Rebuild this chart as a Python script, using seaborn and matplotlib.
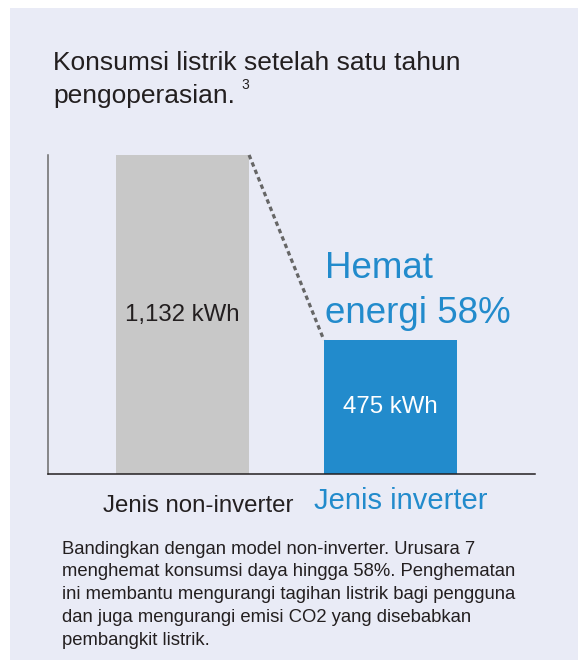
import pandas as pd
import matplotlib.pyplot as plt
import seaborn as sns
from matplotlib.patches import Rectangle

# --- data ---
categories = ['Jenis non-inverter', 'Jenis inverter']
consumption_kwh = [1132, 475]
value_labels = ['1,132 kWh', '475 kWh']
saving_pct = 58

TITLE_LINES = ['Konsumsi listrik setelah satu tahun', 'pengoperasian.']
FOOTNOTE = ('Bandingkan dengan model non-inverter. Urusara 7\n'
            'menghemat konsumsi daya hingga 58%. Penghematan\n'
            'ini membantu mengurangi tagihan listrik bagi pengguna\n'
            'dan juga mengurangi emisi CO2 yang disebabkan\n'
            'pembangkit listrik.')

# --- colours ---
PANEL = '#e9ebf6'
GRAY = '#c8c8c8'
BLUE = '#228bcc'
DARK = '#231f20'

W, H = 578, 660


def fx(px):
    return px / W


def fy(py):
    return 1 - py / H


sns.set_style('white')
plt.rcParams['font.family'] = ['Liberation Sans', 'DejaVu Sans']

fig = plt.figure(figsize=(W / 100, H / 100), dpi=100, facecolor='white')
fig.patches.append(Rectangle((fx(10), 0), 1, fy(8), transform=fig.transFigure,
                             facecolor=PANEL, edgecolor='none', zorder=-5))

ax = fig.add_axes([fx(48), fy(474), fx(535) - fx(48), fy(155) - fy(474)])
ax.set_facecolor('none')
ax.set_zorder(2)

df = pd.DataFrame({'Jenis': categories, 'kWh': consumption_kwh})
bar_w = 0.64
sns.barplot(data=df, x='Jenis', y='kWh', hue='Jenis', palette=[GRAY, BLUE],
            width=bar_w, saturation=1, errorbar=None, legend=False, ax=ax,
            edgecolor='none', linewidth=0)

ax.set_xlim(-0.647, 1.695)
ax.set_ylim(0, consumption_kwh[0])
ax.set_xticks([])
ax.set_yticks([])
ax.set_xlabel('')
ax.set_ylabel('')
for s in ['top', 'right']:
    ax.spines[s].set_visible(False)
ax.spines['left'].set_color('#6b6b6b')
ax.spines['left'].set_linewidth(1.1)
ax.spines['bottom'].set_color(DARK)
ax.spines['bottom'].set_linewidth(1.1)

# values inside the bars
for cont, lab, col in zip(ax.containers, value_labels, [DARK, 'white']):
    ax.bar_label(cont, labels=[lab], label_type='center', color=col, fontsize=17.3)

# dotted connector between the bar tops
x0 = 0 + bar_w / 2
x1 = 1 - bar_w / 2
ax.plot([x0, x1], consumption_kwh, color='#666666', lw=2.3,
        linestyle=(0, (1.4, 1.1)), clip_on=False, solid_capstyle='butt')

# multi-line texts: va='baseline' sits on the last line
ax.annotate(f'Hemat\nenergi {saving_pct}%', xy=(x1, consumption_kwh[1]),
            xytext=(1, 17), textcoords='offset pixels', color=BLUE,
            fontsize=26.5, ha='left', va='baseline', linespacing=1.39,
            annotation_clip=False)

# category labels
fig.text(fx(103), fy(512), categories[0], fontsize=17.3, color=DARK, va='baseline')
fig.text(fx(314), fy(509), categories[1], fontsize=21, color=BLUE, va='baseline')

# title (two lines) + footnote mark
fig.text(fx(53), fy(70), TITLE_LINES[0], fontsize=19, color=DARK, va='baseline')
fig.text(fx(53), fy(103), TITLE_LINES[1], fontsize=19, color=DARK, va='baseline')
fig.text(fx(241), fy(89), '3', fontsize=10, color=DARK, va='baseline')

fig.text(fx(62), fy(645), FOOTNOTE, fontsize=13.35, color=DARK, va='baseline', linespacing=1.45)

fig.savefig('out.png', dpi=100)
